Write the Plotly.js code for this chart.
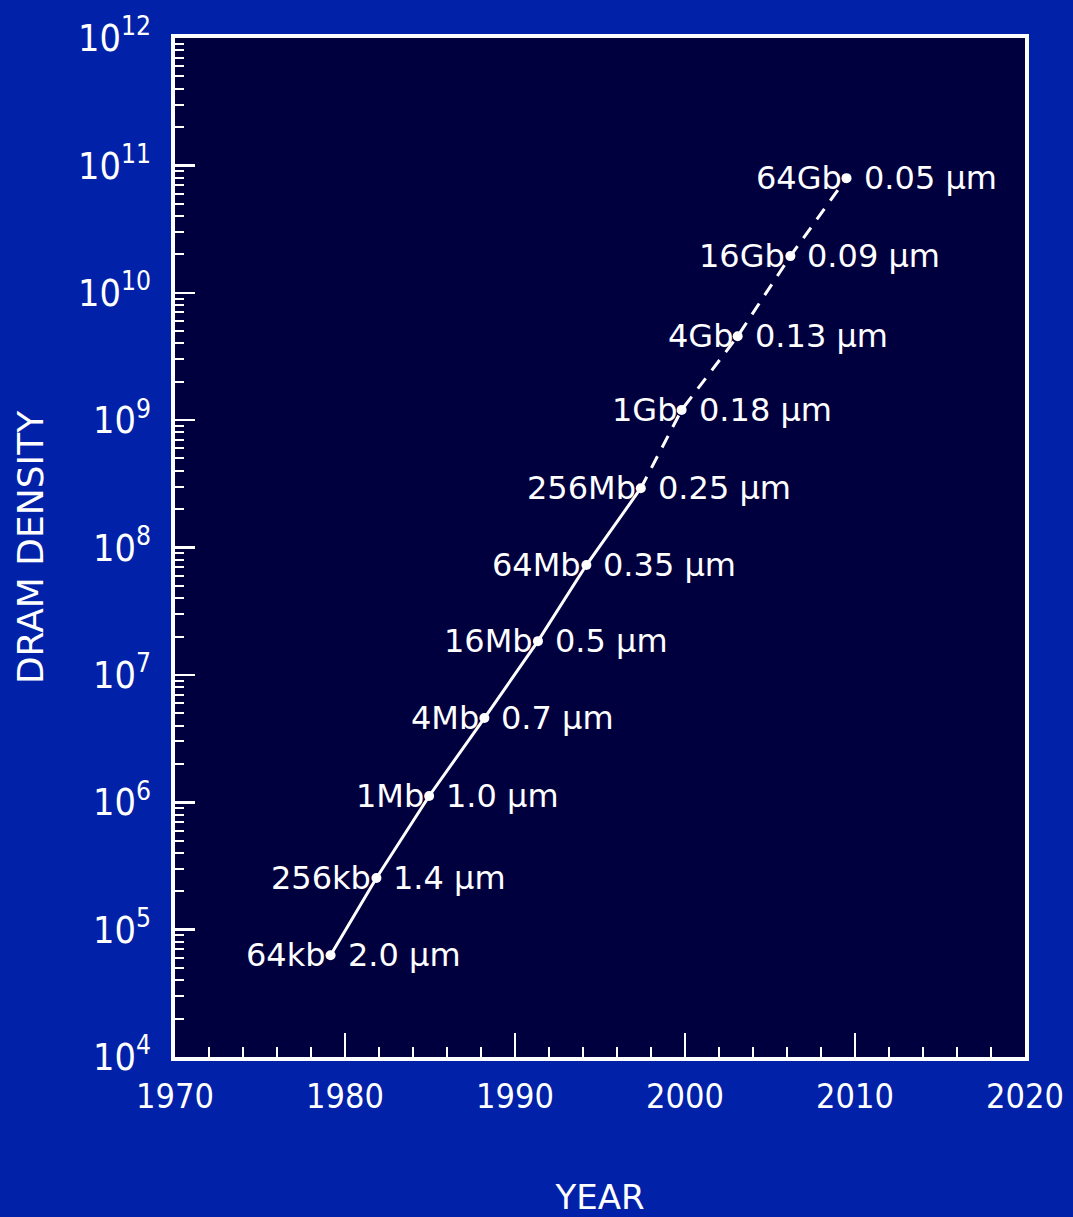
<!DOCTYPE html>
<html>
<head>
<meta charset="utf-8">
<script src="https://cdn.plot.ly/plotly-3.0.1.min.js"></script>
<style>html,body{margin:0;padding:0;background:#0121a8;}#chart{width:1073px;height:1217px;}</style>
</head>
<body>
<div id="chart"></div>
<script>
// Data
const years = [1979.15, 1981.85, 1984.95, 1988.2, 1991.35, 1994.2, 1997.4, 1999.8, 2003.1, 2006.2, 2009.5];
const density = [6.3e4, 2.54e5, 1.12e6, 4.58e6, 1.84e7, 7.28e7, 2.92e8, 1.2e9, 4.56e9, 1.94e10, 7.94e10];
const capacityLabels = ["64kb", "256kb", "1Mb", "4Mb", "16Mb", "64Mb", "256Mb", "1Gb", "4Gb", "16Gb", "64Gb"];
const featureLabels = ["2.0 \u03bcm", "1.4 \u03bcm", "1.0 \u03bcm", "0.7 \u03bcm", "0.5 \u03bcm", "0.35 \u03bcm", "0.25 \u03bcm", "0.18 \u03bcm", "0.13 \u03bcm", "0.09 \u03bcm", "0.05 \u03bcm"];
const solidEnd = 6; // last index of produced (solid) part: 256Mb

const solidX = years.slice(0, solidEnd + 1), solidY = density.slice(0, solidEnd + 1);
const dashX = years.slice(solidEnd), dashY = density.slice(solidEnd);

const labelFont = {family: "DejaVu Sans, sans-serif", size: 32, color: "white"};
const tickFontFamily = "DejaVu Sans Condensed, Liberation Sans Narrow, sans-serif";

const traces = [
  {x: solidX, y: solidY, mode: "lines", line: {color: "white", width: 3}, hoverinfo: "skip"},
  {x: dashX, y: dashY, mode: "lines", line: {color: "white", width: 3, dash: "13px,10px"}, hoverinfo: "skip"},
  {x: years, y: density, mode: "markers", marker: {color: "white", size: 10}, hoverinfo: "skip"}
];

const annotations = [];
years.forEach((yr, i) => {
  annotations.push({x: yr, y: Math.log10(density[i]), xref: "x", yref: "y", text: capacityLabels[i],
    showarrow: false, xanchor: "right", yanchor: "middle", xshift: -3, font: labelFont});
  annotations.push({x: yr, y: Math.log10(density[i]), xref: "x", yref: "y", text: featureLabels[i],
    showarrow: false, xanchor: "left", yanchor: "middle", xshift: 15, font: labelFont});
});

const layout = {
  width: 1073, height: 1217,
  paper_bgcolor: "#0121a8", plot_bgcolor: "#00003f",
  margin: {l: 175, r: 48, t: 38, b: 160},
  showlegend: false,
  font: {color: "white"},
  xaxis: {
    range: [1970, 2020], dtick: 10, tick0: 1970,
    ticks: "inside", ticklen: 24, tickwidth: 2.5, tickcolor: "white",
    minor: {dtick: 2, ticks: "inside", ticklen: 10, tickwidth: 2, tickcolor: "white"},
    showline: true, linecolor: "white", linewidth: 4, mirror: true,
    showgrid: false, zeroline: false,
    tickfont: {family: tickFontFamily, size: 34, color: "white"},
    ticklabelstandoff: 6,
    title: {text: "YEAR", font: {family: "DejaVu Sans, sans-serif", size: 34, color: "white"}, standoff: 85}
  },
  yaxis: {
    type: "log", range: [4, 12], dtick: 1,
    exponentformat: "power",
    ticks: "inside", ticklen: 20, tickwidth: 2.5, tickcolor: "white",
    minor: {dtick: "D1", ticks: "inside", ticklen: 9, tickwidth: 2, tickcolor: "white"},
    showline: true, linecolor: "white", linewidth: 4, mirror: true,
    showgrid: false, zeroline: false,
    automargin: true,
    tickfont: {family: tickFontFamily, size: 30, color: "white"},
    ticklabelstandoff: 14,
    title: {text: "DRAM DENSITY", font: {family: "DejaVu Sans, sans-serif", size: 36, color: "white"}, standoff: 24}
  },
  annotations: annotations
};

Plotly.newPlot("chart", traces, layout, {staticPlot: true, displayModeBar: false});
</script>
</body>
</html>
